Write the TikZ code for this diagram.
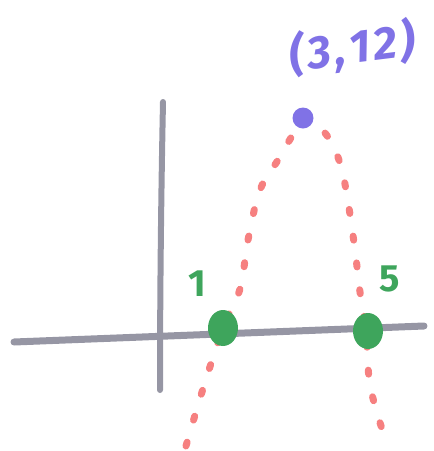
\documentclass[tikz,border=0pt]{standalone}
\usepackage{fontspec}
\setmainfont{Fira Sans}
\usetikzlibrary{shapes.geometric}
\begin{document}
\begin{tikzpicture}[x=1pt,y=-1pt,
  axisline/.style={line width=7pt,draw=axisgray,line cap=round},
  rootdot/.style={ellipse,fill=rootgreen,minimum width=30pt,minimum height=36pt,inner sep=0pt},
  vertexdot/.style={circle,fill=vpurple,minimum size=21pt,inner sep=0pt},
  curvestyle/.style={draw=dotred,line width=7pt,line cap=round,dash pattern=on 4pt off 23pt},
  glabel/.style={text=rootgreen,font=\fontsize{38}{38}\selectfont\bfseries},
  vlabel/.style={text=vpurple,font=\fontsize{46}{46}\selectfont\bfseries\itshape\addfontfeature{LetterSpace=8}}]
\definecolor{axisgray}{RGB}{150,150,164}
\definecolor{rootgreen}{RGB}{62,165,92}
\definecolor{vpurple}{RGB}{128,114,230}
\definecolor{dotred}{RGB}{246,128,128}
\useasboundingbox (0,0) rectangle (434,451);
% axes
\coordinate (xl) at (14,342);
\coordinate (xr) at (424,326);
\coordinate (yt) at (163,102);
\coordinate (yb) at (160,390);
\draw[axisline] (xl) -- (xr);
\draw[axisline,line width=6pt] (yt) .. controls (161,200) and (160,300) .. (yb);
% parabola (dotted)
\draw[curvestyle] plot[smooth,tension=0.6] coordinates {(186,446) (202,392) (223,328) (240,289) (248,240) (260,190) (278,160) (292,136) (303,119) (325,133) (340,163) (348,202) (355,250) (360,292) (366,330) (370,385) (384,435)};
% points
\node[rootdot] (r1) at (223,328) {};
\node[rootdot] (r5) at (368,331) {};
\node[vertexdot] (v) at (303,118) {};
% labels
\node[glabel] (l1) at (197,284) {1};
\node[glabel] (l5) at (390,279) {5};
\node[vlabel,rotate=7] (lv) at (352,48) {(3,\hspace{4pt}12)};
\end{tikzpicture}
\end{document}
